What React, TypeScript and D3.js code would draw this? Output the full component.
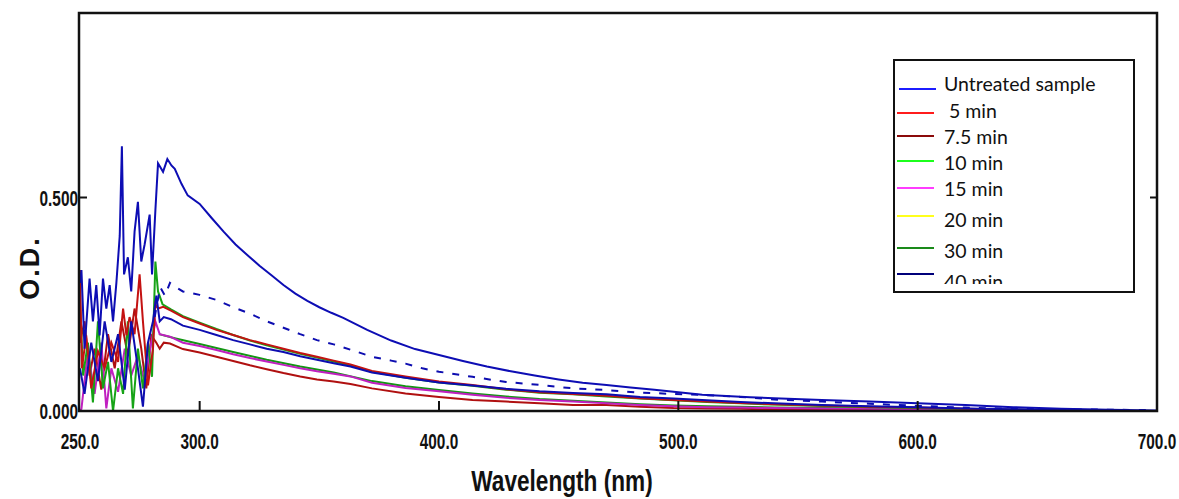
import React, { useRef, useEffect } from "react";
import * as d3 from "d3";

// axis ticks
const xTicks = [250, 300, 400, 500, 600, 700];
const yTicks = [0, 0.5];

// legend
const legendLabels = ["Untreated sample", " 5 min", "7.5 min", "10 min", "15 min", "20 min", "30 min", "40 min"];
const legendColors = ["#1c1cff", "#ff1c1c", "#8b0a0a", "#1cff1c", "#ff3cff", "#ffff1c", "#1a8a1a", "#00007a"];

// spectra (wavelength nm, optical density)
const untreatedNm = [250, 250.6, 251.9, 254.0, 255.4, 256.8, 258.2, 259.6, 261.0, 262.4, 263.8, 265.2, 266.6, 267.5, 268.4, 270.0, 271.4, 272.8, 274.2, 275.6, 277.0, 279.1, 280.1, 281.5, 282.6, 284.7, 286.5, 288.2, 289.6, 292.4, 295, 300, 305, 310, 315, 320, 325, 330, 335, 340, 345, 350, 355, 360, 370, 380, 390, 400, 410, 420, 430, 440, 450, 460, 470, 480, 490, 500, 510, 520, 530, 540, 560, 580, 600, 620, 640, 660, 680, 700];
const untreatedOD = [0.30, 0.33, 0.146, 0.31, 0.21, 0.295, 0.177, 0.31, 0.24, 0.295, 0.21, 0.30, 0.41, 0.62, 0.32, 0.36, 0.28, 0.42, 0.49, 0.35, 0.39, 0.46, 0.32, 0.47, 0.58, 0.56, 0.59, 0.575, 0.567, 0.532, 0.505, 0.485, 0.452, 0.42, 0.39, 0.365, 0.34, 0.318, 0.295, 0.275, 0.258, 0.243, 0.23, 0.218, 0.19, 0.165, 0.145, 0.131, 0.117, 0.104, 0.093, 0.083, 0.074, 0.066, 0.061, 0.055, 0.05, 0.044, 0.038, 0.035, 0.032, 0.03, 0.026, 0.022, 0.018, 0.014, 0.009, 0.005, 0.003, 0.001];

const min5Nm = [250, 250.8, 252.6, 254.7, 257.5, 260.3, 263.1, 265.9, 268.0, 269.4, 270.7, 272.8, 274.9, 276.3, 278.4, 280.5, 281.5, 282.6, 284.8, 288, 293, 300, 307, 314, 321, 328, 335, 342, 349, 356, 363, 372, 386, 400, 414, 428, 442, 456, 470, 484, 498, 512, 526, 540, 560, 580, 600, 620, 640, 660];
const min5OD = [0.33, 0.10, 0.177, 0.053, 0.14, 0.10, 0.16, 0.115, 0.24, 0.177, 0.22, 0.18, 0.32, 0.21, 0.06, 0.146, 0.25, 0.24, 0.244, 0.235, 0.22, 0.205, 0.19, 0.178, 0.166, 0.156, 0.146, 0.136, 0.127, 0.118, 0.109, 0.094, 0.081, 0.069, 0.061, 0.051, 0.044, 0.04, 0.036, 0.03, 0.026, 0.022, 0.019, 0.016, 0.013, 0.01, 0.008, 0.005, 0.003, 0.001];

const min75Nm = [250, 251.9, 254.0, 256.1, 258.9, 261.7, 264.5, 267.3, 270.0, 272.8, 275.6, 277.7, 279.8, 281.9, 283.3, 285, 287.6, 293, 300, 307, 314, 321, 328, 335, 342, 349, 356, 363, 372, 386, 400, 414, 428, 442, 456, 470, 484, 498, 512, 526, 540, 560, 580, 600, 620, 640, 660, 680];
const min75OD = [0.16, 0.21, 0.083, 0.146, 0.05, 0.18, 0.10, 0.21, 0.13, 0.24, 0.146, 0.053, 0.177, 0.16, 0.146, 0.16, 0.158, 0.145, 0.137, 0.127, 0.117, 0.107, 0.098, 0.089, 0.081, 0.074, 0.069, 0.063, 0.053, 0.041, 0.033, 0.026, 0.022, 0.018, 0.014, 0.014, 0.01, 0.007, 0.006, 0.005, 0.004, 0.004, 0.003, 0.003, 0.002, 0.002, 0.001, 0.0];

const min10Nm = [250, 251.3, 253.3, 255.4, 257.5, 259.6, 261.7, 263.8, 265.9, 268.0, 270.0, 272.1, 274.2, 276.3, 278.4, 280.1, 281.5, 282.6, 284.5, 288, 293, 300, 307, 314, 321, 328, 335, 342, 349, 356, 363, 372, 386, 400, 414, 428, 442, 456, 470, 484, 498, 512, 526, 540, 560, 580, 600, 620, 640, 660];
const min10OD = [0.255, 0.083, 0.16, 0.02, 0.21, 0.053, 0.115, 0.0, 0.10, 0.04, 0.21, 0.006, 0.146, 0.053, 0.16, 0.08, 0.35, 0.28, 0.25, 0.238, 0.222, 0.207, 0.192, 0.178, 0.165, 0.154, 0.144, 0.134, 0.125, 0.116, 0.107, 0.092, 0.078, 0.067, 0.059, 0.05, 0.043, 0.039, 0.034, 0.029, 0.025, 0.021, 0.018, 0.015, 0.012, 0.009, 0.007, 0.004, 0.002, 0.001];

const min15Nm = [250, 250.6, 253.3, 256.1, 258.9, 261.0, 263.1, 265.9, 268.7, 271.4, 274.2, 277.0, 279.8, 281.5, 283.3, 287.6, 293, 300, 307, 314, 321, 328, 335, 342, 349, 356, 363, 372, 386, 400, 414, 428, 442, 456, 470, 484, 498, 512, 526, 540, 560, 580, 600, 620, 640, 660, 680];
const min15OD = [0.0, 0.005, 0.14, 0.04, 0.16, 0.006, 0.10, 0.045, 0.146, 0.083, 0.13, 0.068, 0.16, 0.21, 0.18, 0.174, 0.16, 0.152, 0.143, 0.133, 0.124, 0.116, 0.108, 0.10, 0.093, 0.087, 0.081, 0.066, 0.054, 0.046, 0.038, 0.031, 0.026, 0.022, 0.018, 0.014, 0.011, 0.009, 0.008, 0.007, 0.006, 0.005, 0.004, 0.003, 0.002, 0.001, 0.0];

const min30Nm = [283, 290, 300, 314, 328, 342, 356, 372, 386, 400, 414, 428, 442, 456, 470, 484, 498, 512, 526, 540, 560, 580, 600, 620, 640, 660];
const min30OD = [0.18, 0.17, 0.157, 0.138, 0.12, 0.104, 0.09, 0.07, 0.058, 0.049, 0.041, 0.034, 0.028, 0.024, 0.02, 0.016, 0.013, 0.011, 0.01, 0.008, 0.007, 0.006, 0.005, 0.004, 0.003, 0.002];

const min40Nm = [250, 251.9, 254.7, 257.5, 260.3, 263.1, 265.9, 268.7, 271.4, 274.2, 276.3, 278.4, 280.5, 281.9, 283.3, 285, 288, 293, 300, 307, 314, 321, 328, 335, 342, 349, 356, 363, 372, 386, 400, 414, 428, 442, 456, 470, 484, 498, 512, 526, 540, 560, 580, 600, 620, 640, 660, 680];
const min40OD = [0.10, 0.04, 0.16, 0.07, 0.21, 0.115, 0.18, 0.05, 0.21, 0.10, 0.01, 0.16, 0.21, 0.27, 0.21, 0.22, 0.215, 0.20, 0.19, 0.178, 0.166, 0.156, 0.146, 0.138, 0.128, 0.12, 0.112, 0.104, 0.09, 0.078, 0.067, 0.06, 0.052, 0.046, 0.042, 0.039, 0.033, 0.029, 0.025, 0.021, 0.018, 0.014, 0.011, 0.009, 0.006, 0.004, 0.002, 0.001];

// broken navy trace (drawn as dashes in the picture)
const dashedNm = [281.2, 283.5, 285.5, 287.6, 290, 293, 300, 307, 314, 321, 328, 335, 342, 349, 356, 365, 372, 380, 386, 393, 400, 414, 428, 442, 456, 470, 484, 498, 512, 526, 540, 560, 580, 600, 620, 640, 660, 680, 698];
const dashedOD = [0.22, 0.29, 0.27, 0.30, 0.29, 0.28, 0.272, 0.26, 0.243, 0.228, 0.21, 0.195, 0.18, 0.166, 0.156, 0.14, 0.127, 0.118, 0.111, 0.10, 0.092, 0.08, 0.068, 0.061, 0.053, 0.049, 0.043, 0.04, 0.037, 0.033, 0.027, 0.022, 0.017, 0.012, 0.008, 0.005, 0.004, 0.003, 0.002];

export default function App() {
  const svgRef = useRef(null);

  useEffect(() => {
    document.body.style.margin = "0";
    const svg = d3.select(svgRef.current);
    svg.selectAll("*").remove();

    const left = 80, right = 1157, top = 13, bottom = 411;
    const axisFont = "'Liberation Sans', Arial, sans-serif";

    const x = d3.scaleLinear().domain([250, 700]).range([left, right]);
    const y = d3.scaleLinear().domain([0, 0.5]).range([bottom, 197.5]);

    // plotted in drawing order, back to front
    const series = [
      { nm: min30Nm, od: min30OD, color: "#139613", dash: null },
      { nm: min75Nm, od: min75OD, color: "#b01010", dash: null },
      { nm: min15Nm, od: min15OD, color: "#c020c0", dash: null },
      { nm: min10Nm, od: min10OD, color: "#16a316", dash: null },
      { nm: min5Nm, od: min5OD, color: "#c41212", dash: null },
      { nm: min40Nm, od: min40OD, color: "#0d0db0", dash: null },
      { nm: dashedNm, od: dashedOD, color: "#0d0db0", dash: "7 9" },
      { nm: untreatedNm, od: untreatedOD, color: "#0d0db4", dash: null },
    ];

    svg.append("defs").append("clipPath").attr("id", "plot-clip")
      .append("rect")
      .attr("x", left).attr("y", top)
      .attr("width", right - left).attr("height", bottom - top);

    const line = d3.line()
      .x((d) => x(d[0]))
      .y((d) => y(d[1]));

    const plot = svg.append("g").attr("clip-path", "url(#plot-clip)");
    series.forEach((s) => {
      const pts = s.nm.map((w, i) => [w, s.od[i]]);
      plot.append("path")
        .datum(pts)
        .attr("fill", "none")
        .attr("stroke", s.color)
        .attr("stroke-width", 2)
        .attr("stroke-dasharray", s.dash)
        .attr("d", line);
    });

    // frame
    svg.append("rect")
      .attr("x", left - 1).attr("y", top)
      .attr("width", right - left + 1).attr("height", bottom - top)
      .attr("fill", "none")
      .attr("stroke", "#111")
      .attr("stroke-width", 2.5);

    // narrow bold text, squeezed horizontally like the original's condensed face
    const narrow = (g, tx, ty, size, sx, anchor, label) =>
      g.append("text")
        .attr("transform", `translate(${tx},${ty}) scale(${sx},1)`)
        .attr("text-anchor", anchor)
        .attr("font-family", axisFont)
        .attr("font-weight", "bold")
        .attr("font-size", size)
        .attr("fill", "#111")
        .text(label);

    // x ticks (inside) and labels
    xTicks.forEach((t) => {
      if (t > 250 && t < 700) {
        svg.append("line")
          .attr("x1", x(t)).attr("x2", x(t))
          .attr("y1", bottom).attr("y2", bottom - 10)
          .attr("stroke", "#111").attr("stroke-width", 2);
      }
      narrow(svg, x(t), 449, 22, 0.7, "middle", t.toFixed(1));
    });

    // y ticks and labels
    yTicks.forEach((t) => {
      if (t > 0) {
        svg.append("line")
          .attr("x1", left).attr("x2", left + 7)
          .attr("y1", y(t)).attr("y2", y(t))
          .attr("stroke", "#111").attr("stroke-width", 2);
        svg.append("line")
          .attr("x1", right - 7).attr("x2", right)
          .attr("y1", y(t)).attr("y2", y(t))
          .attr("stroke", "#111").attr("stroke-width", 2);
      }
      narrow(svg, 78, y(t) + 8, 22, 0.7, "end", t.toFixed(3));
    });

    // axis titles
    narrow(svg, 562, 491, 29, 0.78, "middle", "Wavelength (nm)");

    svg.append("text")
      .attr("transform", "translate(39,268) rotate(-90)")
      .attr("text-anchor", "middle")
      .attr("font-family", axisFont)
      .attr("font-weight", "bold")
      .attr("font-size", 27)
      .attr("letter-spacing", 2)
      .attr("fill", "#111")
      .text("O.D.");

    // legend
    const lx = 894, ly = 60, lw = 240, lh = 232;
    svg.select("defs").append("clipPath").attr("id", "legend-clip")
      .append("rect")
      .attr("x", lx).attr("y", ly)
      .attr("width", lw).attr("height", 284 - ly);

    svg.append("rect")
      .attr("x", lx).attr("y", ly)
      .attr("width", lw).attr("height", lh)
      .attr("fill", "#fff")
      .attr("stroke", "#111")
      .attr("stroke-width", 2);

    const lineYs = [89, 113, 136, 161, 188, 216, 248, 274];
    const textYs = [91, 118, 144, 170, 196, 227, 258, 289];
    const lg = svg.append("g").attr("clip-path", "url(#legend-clip)");
    legendLabels.forEach((label, i) => {
      lg.append("line")
        .attr("x1", i === 0 ? 899 : 897).attr("x2", i === 0 ? 936 : 934)
        .attr("y1", lineYs[i]).attr("y2", lineYs[i])
        .attr("stroke", legendColors[i])
        .attr("stroke-width", 2);
      lg.append("text")
        .attr("x", 944).attr("y", textYs[i])
        .attr("font-family", "Lato, 'Open Sans', sans-serif")
        .attr("font-size", 19.5)
        .attr("fill", "#111")
        .style("white-space", "pre")
        .text(label);
    });
  }, []);

  return <svg ref={svgRef} width={1179} height={499} style={{ display: "block", background: "#fff" }}></svg>;
}
